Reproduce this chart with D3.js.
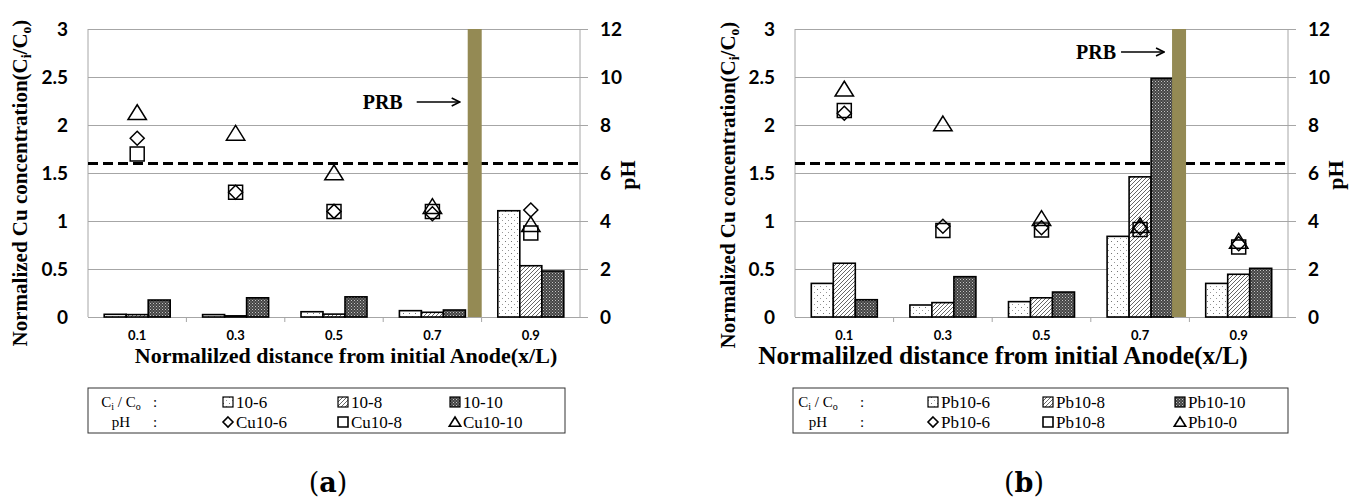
<!DOCTYPE html>
<html><head><meta charset="utf-8">
<script src="https://cdn.jsdelivr.net/npm/d3@7"></script>
<style>
body{margin:0;background:#fff;}
svg{display:block;}
</style>
</head><body>
<svg id="c" width="1357" height="500"></svg>
<script>
// ---------- DATA ----------
const categories = ["0.1","0.3","0.5","0.7","0.9"];
const yLeftTicks = [0,0.5,1,1.5,2,2.5,3];
const yRightTicks = [0,2,4,6,8,10,12];

// Chart (a) - Cu
const cuBar10_6  = [0.028,0.025,0.055,0.066,1.107];
const cuBar10_8  = [0.025,0.012,0.03,0.049,0.534];
const cuBar10_10 = [0.177,0.20,0.21,0.073,0.479];
const cuPH10_6   = [7.45,5.2,4.4,4.3,4.46];
const cuPH10_8   = [6.79,5.2,4.4,4.4,3.5];
const cuPH10_10  = [8.51,7.65,6.0,4.6,3.85];
const cuBarNames = ["10-6","10-8","10-10"];
const cuPHNames  = ["Cu10-6","Cu10-8","Cu10-10"];

// Chart (b) - Pb
const pbBar10_6  = [0.35,0.125,0.16,0.84,0.35];
const pbBar10_8  = [0.56,0.15,0.20,1.46,0.445];
const pbBar10_10 = [0.18,0.42,0.26,2.486,0.507];
const pbPH10_6   = [8.49,3.78,3.72,3.72,3.05];
const pbPH10_8   = [8.6,3.6,3.62,3.65,2.92];
const pbPH10_0   = [9.49,8.04,4.1,3.8,3.15];
const pbBarNames = ["Pb10-6","Pb10-8","Pb10-10"];
const pbPHNames  = ["Pb10-6","Pb10-8","Pb10-0"];

const thresholdConc = 1.6;          // dashed reference line (left axis units)
const prbCenter = [0.786, 0.779];   // PRB position as fraction of x/L
const prbLabelY = [2.24, 2.76];     // PRB label height (left axis units)
const panelLabels = ["a","b"];

// ---------- DRAW ----------
const svg = d3.select("#c");
const defs = svg.append("defs");

function mkPatterns(){
  const p1 = defs.append("pattern").attr("id","pDots").attr("patternUnits","userSpaceOnUse")
    .attr("width",6).attr("height",6);
  p1.append("rect").attr("width",6).attr("height",6).attr("fill","#fff");
  p1.append("rect").attr("x",1).attr("y",1).attr("width",1).attr("height",1).attr("fill","#777");
  p1.append("rect").attr("x",4).attr("y",4).attr("width",1).attr("height",1).attr("fill","#999");

  const p2 = defs.append("pattern").attr("id","pDiag").attr("patternUnits","userSpaceOnUse")
    .attr("width",4).attr("height",4);
  p2.append("rect").attr("width",4).attr("height",4).attr("fill","#fff");
  p2.append("path").attr("d","M-1,1 L1,-1 M0,4 L4,0 M3,5 L5,3").attr("stroke","#666").attr("stroke-width",1);

  const p3 = defs.append("pattern").attr("id","pDark").attr("patternUnits","userSpaceOnUse")
    .attr("width",3).attr("height",3);
  p3.append("rect").attr("width",3).attr("height",3).attr("fill","#444");
  p3.append("rect").attr("x",0).attr("y",0).attr("width",1).attr("height",1).attr("fill","#c4c4c4");
  p3.append("rect").attr("x",1.5).attr("y",1.5).attr("width",1).attr("height",1).attr("fill","#a0a0a0");

  const m = defs.append("marker").attr("id","arrow").attr("viewBox","0 0 10 10")
    .attr("refX",9).attr("refY",5).attr("markerWidth",10).attr("markerHeight",10)
    .attr("markerUnits","userSpaceOnUse").attr("orient","auto");
  m.append("path").attr("d","M1,1 L9,5 L1,9").attr("fill","none").attr("stroke","#000").attr("stroke-width",1.6);
}
mkPatterns();
const barFills = ["url(#pDots)","url(#pDiag)","url(#pDark)"];

function markerPath(type, s){
  if(type==="diamond") return `M0,${-s} L${s},0 L0,${s} L${-s},0 Z`;
  if(type==="square") return `M${-s},${-s} H${s} V${s} H${-s} Z`;
  return `M0,${-s} L${s*1.15},${s*0.85} L${-s*1.15},${s*0.85} Z`;
}
const markerTypes = ["diamond","square","triangle"];
const markerSizes = [7,7,8];

const sans = "Lato, 'Open Sans', sans-serif";
const serif = "'Liberation Serif', 'Times New Roman', serif";

function drawChart(cfg, idx){
  const {left,right,top,bottom,bars,phs,barNames,phNames,xTitleSize,yTitleSize,legend} = cfg;
  const g = svg.append("g");
  const yL = d3.scaleLinear().domain([0,3]).range([bottom,top]);
  const yR = d3.scaleLinear().domain([0,12]).range([bottom,top]);
  const xB = d3.scaleBand().domain(categories).range([left,right]);
  const xS = d3.scaleBand().domain([0,1,2]).range([0,66]);
  const xF = d3.scaleLinear().domain([0,1]).range([left,right]);

  const gridAxis = d3.axisRight(yL).tickValues(yLeftTicks).tickSize(-(right-left)-8).tickFormat("");
  const gg = g.append("g").attr("transform",`translate(${right+8},0)`).call(gridAxis);
  gg.select(".domain").remove();
  gg.selectAll("line").attr("stroke","#a6a6a6").attr("stroke-width",1);

  g.append("line").attr("x1",left).attr("x2",left).attr("y1",top).attr("y2",bottom).attr("stroke","#a6a6a6");
  g.append("line").attr("x1",right).attr("x2",right).attr("y1",top).attr("y2",bottom).attr("stroke","#a6a6a6");

  g.append("g").selectAll("text").data(yLeftTicks).join("text")
    .attr("x",left-20).attr("y",d=>yL(d)).attr("dy","0.35em").attr("text-anchor","end")
    .attr("font-family",sans).attr("font-weight","bold").attr("font-size",19).text(d=>d3.format("")(d));
  g.append("g").selectAll("text").data(yRightTicks).join("text")
    .attr("x",right+20).attr("y",d=>yR(d)).attr("dy","0.35em").attr("text-anchor","start")
    .attr("font-family",sans).attr("font-weight","bold").attr("font-size",19).text(d=>d);

  const xAxis = d3.axisBottom(xB).tickSize(0).tickPadding(14);
  const xa = g.append("g").attr("transform",`translate(0,${bottom})`).call(xAxis);
  xa.select(".domain").attr("stroke","#a6a6a6");
  xa.selectAll("text").attr("font-family",sans).attr("font-weight","bold").attr("font-size",13).attr("fill","#000");
  g.append("g").selectAll("line").data(categories.slice(1)).join("line")
    .attr("x1",d=>xB(d)).attr("x2",d=>xB(d)).attr("y1",bottom).attr("y2",bottom+5).attr("stroke","#a6a6a6");

  g.append("line").attr("x1",left).attr("x2",right).attr("y1",yL(thresholdConc)).attr("y2",yL(thresholdConc))
    .attr("stroke","#000").attr("stroke-width",3).attr("stroke-dasharray","10,5");

  bars.forEach((vals,si)=>{
    g.append("g").selectAll("rect").data(vals).join("rect")
      .attr("x",(d,i)=>xB(categories[i]) + (xB.bandwidth()-66)/2 + xS(si))
      .attr("y",d=>yL(d)).attr("width",xS.bandwidth()).attr("height",d=>yL(0)-yL(d))
      .attr("fill",barFills[si]).attr("stroke","#000").attr("stroke-width",1.6);
  });

  const pc = xF(prbCenter[idx]);
  g.append("rect").attr("x",pc-7).attr("y",top).attr("width",14).attr("height",bottom-top).attr("fill","#948a54");
  const py = yL(prbLabelY[idx]);
  g.append("line").attr("x1",pc-7-cfg.arrowGap-cfg.arrowLen).attr("x2",pc-7-cfg.arrowGap).attr("y1",py).attr("y2",py)
    .attr("stroke","#000").attr("stroke-width",1.6).attr("marker-end","url(#arrow)");
  g.append("text").attr("x",pc-7-cfg.arrowGap-cfg.arrowLen-cfg.textGap).attr("y",py).attr("dy","0.35em")
    .attr("text-anchor","end").attr("font-family",serif).attr("font-weight","bold").attr("font-size",20).text("PRB");

  phs.forEach((vals,si)=>{
    g.append("g").selectAll("path").data(vals).join("path")
      .attr("transform",(d,i)=>`translate(${xB(categories[i])+xB.bandwidth()/2},${yR(d)})`)
      .attr("d",markerPath(markerTypes[si],markerSizes[si]))
      .attr("fill","none").attr("stroke","#000").attr("stroke-width",1.5);
  });

  const yt = g.append("text").attr("transform",`translate(${cfg.yTitleX},${cfg.yTitleCY}) rotate(-90)`)
    .attr("text-anchor","middle").attr("font-family",serif).attr("font-weight","bold").attr("font-size",yTitleSize);
  yt.append("tspan").text("Normalized Cu concentration(C");
  yt.append("tspan").attr("font-size",yTitleSize*0.65).attr("dy",4).text("i");
  yt.append("tspan").attr("dy",-4).text("/C");
  yt.append("tspan").attr("font-size",yTitleSize*0.65).attr("dy",4).text("o");
  yt.append("tspan").attr("dy",-4).text(")");

  g.append("text").attr("transform",`translate(${right+55},${yR(6)+2}) rotate(-90)`)
    .attr("text-anchor","middle").attr("font-family",serif).attr("font-weight","bold").attr("font-size",22).text("pH");

  g.append("text").attr("x",cfg.xTitleX).attr("y",cfg.xTitleY).attr("text-anchor","middle")
    .attr("font-family",serif).attr("font-weight","bold").attr("font-size",xTitleSize)
    .text("Normalilzed distance from initial Anode(x/L)");

  const L = legend;
  g.append("rect").attr("x",L.x).attr("y",388).attr("width",L.w).attr("height",45)
    .attr("fill","#fff").attr("stroke","#333").attr("stroke-width",1);
  const lf = "'Liberation Serif', serif";
  const r1 = 402, r2 = 422;
  const lt = g.append("text").attr("x",L.labelX).attr("y",r1).attr("dy","0.35em").attr("text-anchor","middle")
    .attr("font-family",lf).attr("font-size",15);
  lt.append("tspan").text("C");
  lt.append("tspan").attr("font-size",10).attr("dy",3).text("i");
  lt.append("tspan").attr("dy",-3).text(" / C");
  lt.append("tspan").attr("font-size",10).attr("dy",3).text("o");
  g.append("text").attr("x",L.labelX).attr("y",r2).attr("dy","0.35em").attr("text-anchor","middle")
    .attr("font-family",lf).attr("font-size",15).text("pH");
  g.append("text").attr("x",L.colonX).attr("y",r1).attr("dy","0.35em").attr("font-family",lf).attr("font-size",15).text(":");
  g.append("text").attr("x",L.colonX).attr("y",r2).attr("dy","0.35em").attr("font-family",lf).attr("font-size",15).text(":");
  L.cols.forEach((cx,si)=>{
    g.append("rect").attr("x",cx-5).attr("y",r1-5).attr("width",10).attr("height",10)
      .attr("fill",barFills[si]).attr("stroke","#000").attr("stroke-width",1.2);
    g.append("text").attr("x",cx+8).attr("y",r1).attr("dy","0.35em").attr("font-family",lf).attr("font-size",17).text(barNames[si]);
    g.append("path").attr("transform",`translate(${cx},${r2})`).attr("d",markerPath(markerTypes[si],5))
      .attr("fill","none").attr("stroke","#000").attr("stroke-width",1.6);
    g.append("text").attr("x",cx+8).attr("y",r2).attr("dy","0.35em").attr("font-family",lf).attr("font-size",17).text(phNames[si]);
  });

  const pl = g.append("text").attr("x",cfg.panelX).attr("y",492).attr("text-anchor","middle")
    .attr("font-family","'DejaVu Serif', serif").attr("font-size",27);
  pl.append("tspan").text("(");
  pl.append("tspan").attr("font-weight","bold").text(panelLabels[idx]);
  pl.append("tspan").text(")");
}

drawChart({left:88,right:580,top:29,bottom:317,
  bars:[cuBar10_6,cuBar10_8,cuBar10_10], phs:[cuPH10_6,cuPH10_8,cuPH10_10],
  barNames:cuBarNames, phNames:cuPHNames,
  xTitleSize:22, yTitleSize:21, yTitleX:27, yTitleCY:183, xTitleX:346, xTitleY:363,
  arrowLen:43, arrowGap:8, textGap:14, panelX:328,
  legend:{x:88,w:477,labelX:121,colonX:153,cols:[228,343,455]}}, 0);

drawChart({left:795,right:1288,top:29,bottom:317,
  bars:[pbBar10_6,pbBar10_8,pbBar10_10], phs:[pbPH10_6,pbPH10_8,pbPH10_0],
  barNames:pbBarNames, phNames:pbPHNames,
  xTitleSize:25.5, yTitleSize:21, yTitleX:735, yTitleCY:185, xTitleX:1003, xTitleY:364,
  arrowLen:43, arrowGap:8, textGap:5, panelX:1024,
  legend:{x:793,w:495,labelX:818,colonX:860,cols:[933,1048,1180]}}, 1);
</script>
</body></html>
